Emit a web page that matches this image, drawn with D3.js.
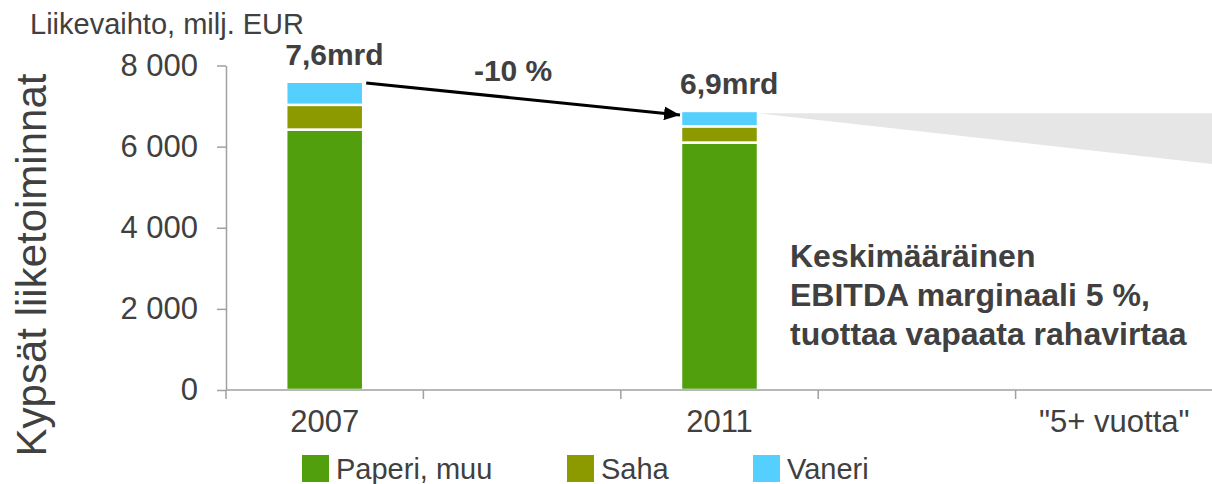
<!DOCTYPE html>
<html>
<head>
<meta charset="utf-8">
<script src="https://cdn.jsdelivr.net/npm/d3@7"></script>
<style>
  body { margin: 0; background: #fff; }
  text { font-family: "Liberation Sans", Arial, sans-serif; fill: #404040; }
</style>
</head>
<body>
<div id="chart"></div>
<script>
// categories on the x axis (empty slots between the labelled ones)
var categories = ["2007", "gap1", "2011", "gap2", "5+"];
var categoryLabels = ["2007", "", "2011", "", "\"5+ vuotta\""];

// stacked series, milj. EUR
var years = ["2007", "2011"];
var paperi = [6420, 6100];
var saha = [610, 400];
var vaneri = [570, 380];
var totalLabels = ["7,6mrd", "6,9mrd"];

var seriesNames = ["Paperi, muu", "Saha", "Vaneri"];
var seriesColors = ["#519f0c", "#8c9a00", "#55cffd"];

var yTicks = [0, 2000, 4000, 6000, 8000];

// arrow between the bars and the grey outlook wedge
var arrowValues = [7570, 6780];
var wedgeValues = [6820, 6820, 5570];

var annotationLines = ["Keskimääräinen", "EBITDA marginaali 5 %,", "tuottaa vapaata rahavirtaa"];

var width = 1212, height = 484;

var svg = d3.select("#chart")
  .append("svg")
    .attr("width", width)
    .attr("height", height);

var x = d3.scaleBand()
  .domain(categories)
  .range([226, 1213])
  .padding(0);

var y = d3.scaleLinear()
  .domain([0, 8000])
  .range([390, 65.5]);

var barWidth = x.bandwidth() * 0.39;
function barLeft(cat) { return x(cat) + (x.bandwidth() - barWidth) / 2; }

// grey wedge towards "5+ vuotta"
var x0 = barLeft("2011") + barWidth, x1 = x.range()[1];
svg.append("path")
  .attr("d", "M" + x0 + "," + y(wedgeValues[0]) +
             "L" + x1 + "," + y(wedgeValues[1]) +
             "L" + x1 + "," + y(wedgeValues[2]) + "Z")
  .style("fill", "#e5e6e5");

// stack the data
var table = years.map(function(yr, i) {
  return {year: yr, "Paperi, muu": paperi[i], "Saha": saha[i], "Vaneri": vaneri[i]};
});
var stacked = d3.stack().keys(seriesNames)(table);

svg.selectAll(".layer")
  .data(stacked)
  .enter()
  .append("g")
    .attr("class", "layer")
    .style("fill", function(d, i) { return seriesColors[i]; })
  .selectAll("rect")
  .data(function(d) { return d; })
  .enter()
  .append("rect")
    .attr("x", function(d) { return barLeft(d.data.year); })
    .attr("y", function(d) { return y(d[1]); })
    .attr("width", barWidth)
    .attr("height", function(d) { return y(d[0]) - y(d[1]); })
    .style("stroke", "#fff")
    .style("stroke-width", 2.5);

// total labels above the bars
svg.selectAll(".total")
  .data(table)
  .enter()
  .append("text")
    .attr("class", "total")
    .attr("x", function(d) { return barLeft(d.year) - 1; })
    .attr("y", function(d) { return y(d["Paperi, muu"] + d["Saha"] + d["Vaneri"]) - 17; })
    .style("font-size", "30px")
    .style("font-weight", "bold")
    .text(function(d, i) { return totalLabels[i]; });

// y axis
var yAxis = svg.append("g")
  .attr("transform", "translate(226,0)")
  .call(d3.axisLeft(y)
    .tickValues(yTicks)
    .tickSize(9)
    .tickSizeOuter(0)
    .tickPadding(19)
    .tickFormat(function(d) { return d3.format(",")(d).replace(",", " "); }));
yAxis.selectAll("line, path").style("stroke", "#a0a0a0").style("stroke-width", 1.5);
yAxis.selectAll("text").style("font-size", "31px").style("fill", "#404040")
  .style("font-family", "Liberation Sans, Arial, sans-serif");

// x axis: labels centred in bands, ticks on band edges
var xAxis = svg.append("g")
  .attr("transform", "translate(0,390)")
  .call(d3.axisBottom(x)
    .tickSize(0)
    .tickPadding(20)
    .tickFormat(function(d, i) { return categoryLabels[i]; }));
xAxis.select(".domain").attr("d", "M" + x.range()[0] + ",0H" + x.range()[1]);
xAxis.selectAll("path").style("stroke", "#a0a0a0").style("stroke-width", 1.5);
xAxis.selectAll("text").style("font-size", "31px").style("fill", "#404040")
  .style("font-family", "Liberation Sans, Arial, sans-serif");
xAxis.selectAll(".edge")
  .data(categories.map(function(c) { return x(c); }).concat([x.range()[1]]))
  .enter()
  .append("line")
    .attr("class", "edge")
    .attr("x1", function(d) { return d; })
    .attr("x2", function(d) { return d; })
    .attr("y1", 0)
    .attr("y2", 9)
    .style("stroke", "#a0a0a0")
    .style("stroke-width", 1.5);

// arrow 2007 -> 2011
svg.append("defs").append("marker")
  .attr("id", "arrowhead")
  .attr("markerUnits", "userSpaceOnUse")
  .attr("viewBox", "0 0 16 14")
  .attr("refX", 16)
  .attr("refY", 7)
  .attr("markerWidth", 16)
  .attr("markerHeight", 14)
  .attr("orient", "auto")
  .append("path")
    .attr("d", "M0,0L16,7L0,14Z")
    .style("fill", "#000");

var ax0 = barLeft("2007") + barWidth + 3, ax1 = barLeft("2011") - 1;
svg.append("line")
  .attr("x1", ax0)
  .attr("y1", y(arrowValues[0]))
  .attr("x2", ax1)
  .attr("y2", y(arrowValues[1]))
  .attr("marker-end", "url(#arrowhead)")
  .style("stroke", "#000")
  .style("stroke-width", 3);

svg.append("text")
  .attr("x", (ax0 + ax1) / 2 - 10)
  .attr("y", (y(arrowValues[0]) + y(arrowValues[1])) / 2 - 18)
  .attr("text-anchor", "middle")
  .style("font-size", "30px")
  .style("font-weight", "bold")
  .text("-10 %");

// annotation
svg.append("text")
  .attr("x", x0 + 32)
  .attr("y", 267)
  .style("font-size", "32px")
  .style("font-weight", "bold")
  .selectAll("tspan")
  .data(annotationLines)
  .enter()
  .append("tspan")
    .attr("x", x0 + 32)
    .attr("dy", function(d, i) { return i === 0 ? 0 : 39; })
    .text(function(d) { return d; });

// titles
svg.append("text")
  .attr("x", 30)
  .attr("y", 34)
  .style("font-size", "29px")
  .text("Liikevaihto, milj. EUR");

svg.append("text")
  .attr("transform", "translate(31,265) rotate(-90)")
  .attr("text-anchor", "middle")
  .attr("dy", "0.35em")
  .style("font-size", "42px")
  .text("Kypsät liiketoiminnat");

// legend
var legendX = [302, 567, 753];
var legend = svg.selectAll(".legend")
  .data(seriesNames)
  .enter()
  .append("g")
    .attr("class", "legend")
    .attr("transform", function(d, i) { return "translate(" + legendX[i] + ",455)"; });
legend.append("rect")
  .attr("width", 27)
  .attr("height", 27)
  .style("fill", function(d, i) { return seriesColors[i]; });
legend.append("text")
  .attr("x", 34)
  .attr("y", 24)
  .style("font-size", "29px")
  .text(function(d) { return d; });
</script>
</body>
</html>
